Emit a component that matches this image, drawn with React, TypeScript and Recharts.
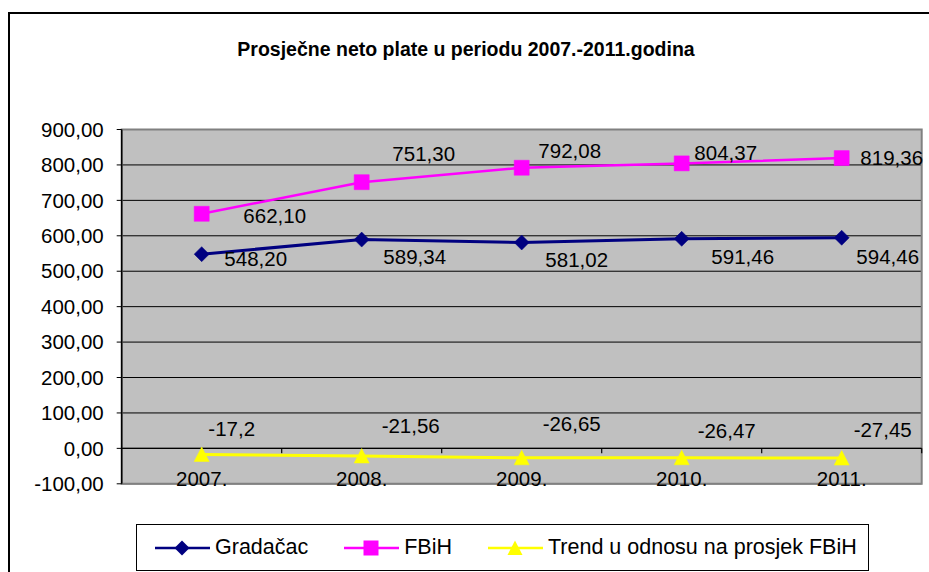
import { LineChart, Line, XAxis, YAxis, CartesianGrid, ReferenceLine, ReferenceArea, LabelList } from 'recharts'

const godine = ['2007.', '2008.', '2009.', '2010.', '2011.']
const gradacac = [548.2, 589.34, 581.02, 591.46, 594.46]
const fbih = [662.1, 751.3, 792.08, 804.37, 819.36]
const trend = [-17.2, -21.56, -26.65, -26.47, -27.45]
const yTicks = [-100, 0, 100, 200, 300, 400, 500, 600, 700, 800, 900]

// rucno pomjerene oznake (kao u Excelu), pomak od tacke do sredine teksta
const offGradacac = [[54, 5], [53, 17], [55, 17], [61, 18], [46, 19]]
const offFbih = [[73, 2], [62, -28], [48, -17], [44, -10], [50, 0]]
const offTrend = [[30, -25], [49, -30], [50, -34], [45, -27], [41, -28]]

const data = godine.map((g, i) => ({
  godina: g,
  gradacac: gradacac[i],
  fbih: fbih[i],
  trend: trend[i],
}))

const FONT = '"Liberation Sans", Arial, sans-serif'
const W = 929
const H = 572

const fmt2 = (v: number) => v.toFixed(2).replace('.', ',')
const fmtRaw = (v: number) => String(v).replace('.', ',')

const makeLabel = (offsets: number[][], format: (v: number) => string) => (props: any) => {
  const x = props.x ?? props.viewBox?.x
  const y = props.y ?? props.viewBox?.y
  const [dx, dy] = offsets[props.index] || [0, 0]
  return (
    <text
      key={props.index}
      x={x + dx}
      y={y + dy + 7}
      textAnchor="middle"
      fontSize={20.5}
      fontFamily={FONT}
      fill="#000"
    >
      {format(props.value)}
    </text>
  )
}

const markerPath = (kind: string, cx: number, cy: number) => {
  if (kind === 'diamond') return `M${cx},${cy - 7.5} L${cx + 7.5},${cy} L${cx},${cy + 7.5} L${cx - 7.5},${cy} Z`
  if (kind === 'square') return `M${cx - 7.5},${cy - 7.5} h15 v15 h-15 Z`
  return `M${cx},${cy - 7.5} L${cx + 7.5},${cy + 7} L${cx - 7.5},${cy + 7} Z`
}

const makeDot = (kind: string, color: string) => (p: any) => (
  <path key={`${kind}-${p.index}`} d={markerPath(kind, p.cx, p.cy)} fill={color} stroke={color} strokeWidth={0.5} />
)

const series = [
  { key: 'gradacac', name: 'Gradačac', color: '#000080', marker: 'diamond', width: 3, offsets: offGradacac, format: fmt2 },
  { key: 'fbih', name: 'FBiH', color: '#FF00FF', marker: 'square', width: 2.5, offsets: offFbih, format: fmt2 },
  { key: 'trend', name: 'Trend u odnosu na prosjek FBiH', color: '#FFFF00', marker: 'triangle', width: 3, offsets: offTrend, format: fmtRaw },
]

// linija na nuli sa crticama izmedju kategorija
const ZeroAxis = (props: any) => {
  const { x1, x2, y1 } = props
  const step = (x2 - x1) / godine.length
  return (
    <g>
      <line x1={x1} x2={x2} y1={y1} y2={y1} stroke="#000" strokeWidth={1.2} />
      {godine.map((_, i) => (
        <line key={i} x1={x1 + (i + 1) * step} x2={x1 + (i + 1) * step} y1={y1} y2={y1 + 5} stroke="#000" strokeWidth={1.2} />
      ))}
    </g>
  )
}

const XTick = ({ x, y, payload }: any) => (
  <text x={x} y={y + 2} textAnchor="middle" fontSize={20.5} fontFamily={FONT} fill="#000">
    {payload.value}
  </text>
)

const LegendIcon = ({ kind, color }: { kind: string; color: string }) => (
  <svg width={55} height={20} style={{ display: 'block' }}>
    <line x1={0} x2={55} y1={10} y2={10} stroke={color} strokeWidth={2.5} />
    <path d={markerPath(kind, 27, 10)} fill={color} />
  </svg>
)

export default function App() {
  return (
    <div style={{ position: 'absolute', left: 0, top: 0, width: W, height: H, overflow: 'hidden', background: '#fff', fontFamily: FONT }}>
      <div style={{ position: 'absolute', left: 8, top: 12, width: 960, height: 620, border: '2px solid #000', boxSizing: 'border-box' }} />
      <div style={{ position: 'absolute', left: 0, width: 932, top: 37, textAlign: 'center', fontWeight: 'bold', fontSize: 19.5, lineHeight: '24px', color: '#000' }}>
        Prosječne neto plate u periodu 2007.-2011.godina
      </div>

      <div style={{ position: 'absolute', left: 0, top: 0 }}>
        <LineChart width={W} height={H} data={data} margin={{ top: 129.5, right: 7.3, bottom: 58.2, left: 0 }}>
          <CartesianGrid vertical={false} stroke="#000" strokeWidth={1} fill="#C0C0C0" fillOpacity={1} />
          <ReferenceLine y={0} shape={<ZeroAxis />} />
          <XAxis dataKey="godina" scale="band" height={30} axisLine={false} tickLine={false} tickSize={0} tickMargin={0} interval={0} tick={<XTick />} />
          <YAxis
            width={121.7}
            domain={[-100, 900]}
            ticks={yTicks}
            interval={0}
            tickFormatter={fmt2}
            tickSize={5}
            tickMargin={13}
            axisLine={{ stroke: '#000', strokeWidth: 1.5 }}
            tickLine={{ stroke: '#000' }}
            tick={{ fontSize: 20.5, fontFamily: FONT, fill: '#000' }}
          />
          <ReferenceArea y1={-100} y2={900} fill="none" stroke="#808080" strokeWidth={2} />
          {series.map(s => (
            <Line
              key={s.key}
              dataKey={s.key}
              name={s.name}
              stroke={s.color}
              strokeWidth={s.width}
              dot={makeDot(s.marker, s.color)}
              activeDot={false}
              isAnimationActive={false}
            >
              <LabelList dataKey={s.key} content={makeLabel(s.offsets, s.format)} />
            </Line>
          ))}
        </LineChart>
      </div>

      <div style={{ position: 'absolute', left: 136, top: 524, width: 733, height: 47, border: '1.5px solid #000', boxSizing: 'border-box', background: '#fff', display: 'flex', alignItems: 'center', paddingLeft: 18, gap: 36 }}>
        {series.map(s => (
          <div key={s.key} style={{ display: 'flex', alignItems: 'center', gap: 5 }}>
            <LegendIcon kind={s.marker} color={s.color} />
            <span style={{ fontSize: 21.5, color: '#000', whiteSpace: 'nowrap' }}>{s.name}</span>
          </div>
        ))}
      </div>
    </div>
  )
}
